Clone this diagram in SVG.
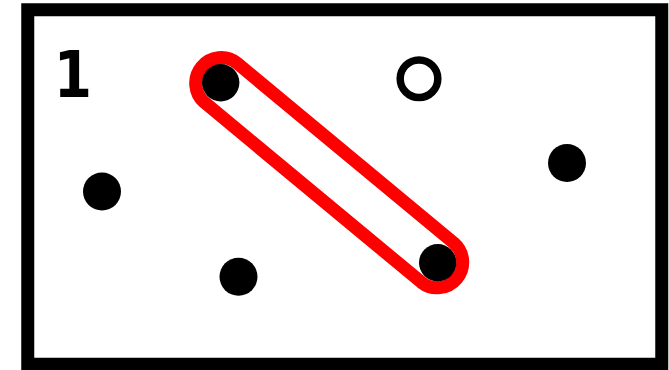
<svg xmlns="http://www.w3.org/2000/svg" width="669" height="370" viewBox="0 0 669 370">
<style>
.dot{fill:#000}
.ring{fill:none;stroke:#000;stroke-width:7.5}
.sel{fill:none;stroke:#ff0000;stroke-width:13}
</style>
<rect x="0" y="0" width="669" height="370" fill="#fff"/>
<g id="frame"><rect x="27.75" y="9.75" width="634" height="354.5" fill="#fff" stroke="#000" stroke-width="13"/></g>
<g id="label"><text transform="translate(73,97) scale(0.86,1)" x="0" y="0" font-family="DejaVu Sans, sans-serif" font-weight="bold" font-size="64" text-anchor="middle" fill="#000">1</text></g>
<g id="connectors">
<path class="sel" d="M 204.4 102.3 L 421.4 282.3 A 25.5 25.5 0 0 0 454.0 243.1 L 237.0 63.1 A 25.5 25.5 0 0 0 204.4 102.3 Z"/>
</g>
<g id="n1"><circle class="dot" cx="220.7" cy="82.7" r="18.7"/></g>
<g id="n2"><circle class="ring" cx="419" cy="78.7" r="18.8"/></g>
<g id="n3"><circle class="dot" cx="567" cy="163" r="19"/></g>
<g id="n4"><circle class="dot" cx="102" cy="191.5" r="19"/></g>
<g id="n5"><circle class="dot" cx="238.5" cy="276.7" r="19"/></g>
<g id="n6"><circle class="dot" cx="437.7" cy="262.7" r="18.7"/></g>
</svg>
